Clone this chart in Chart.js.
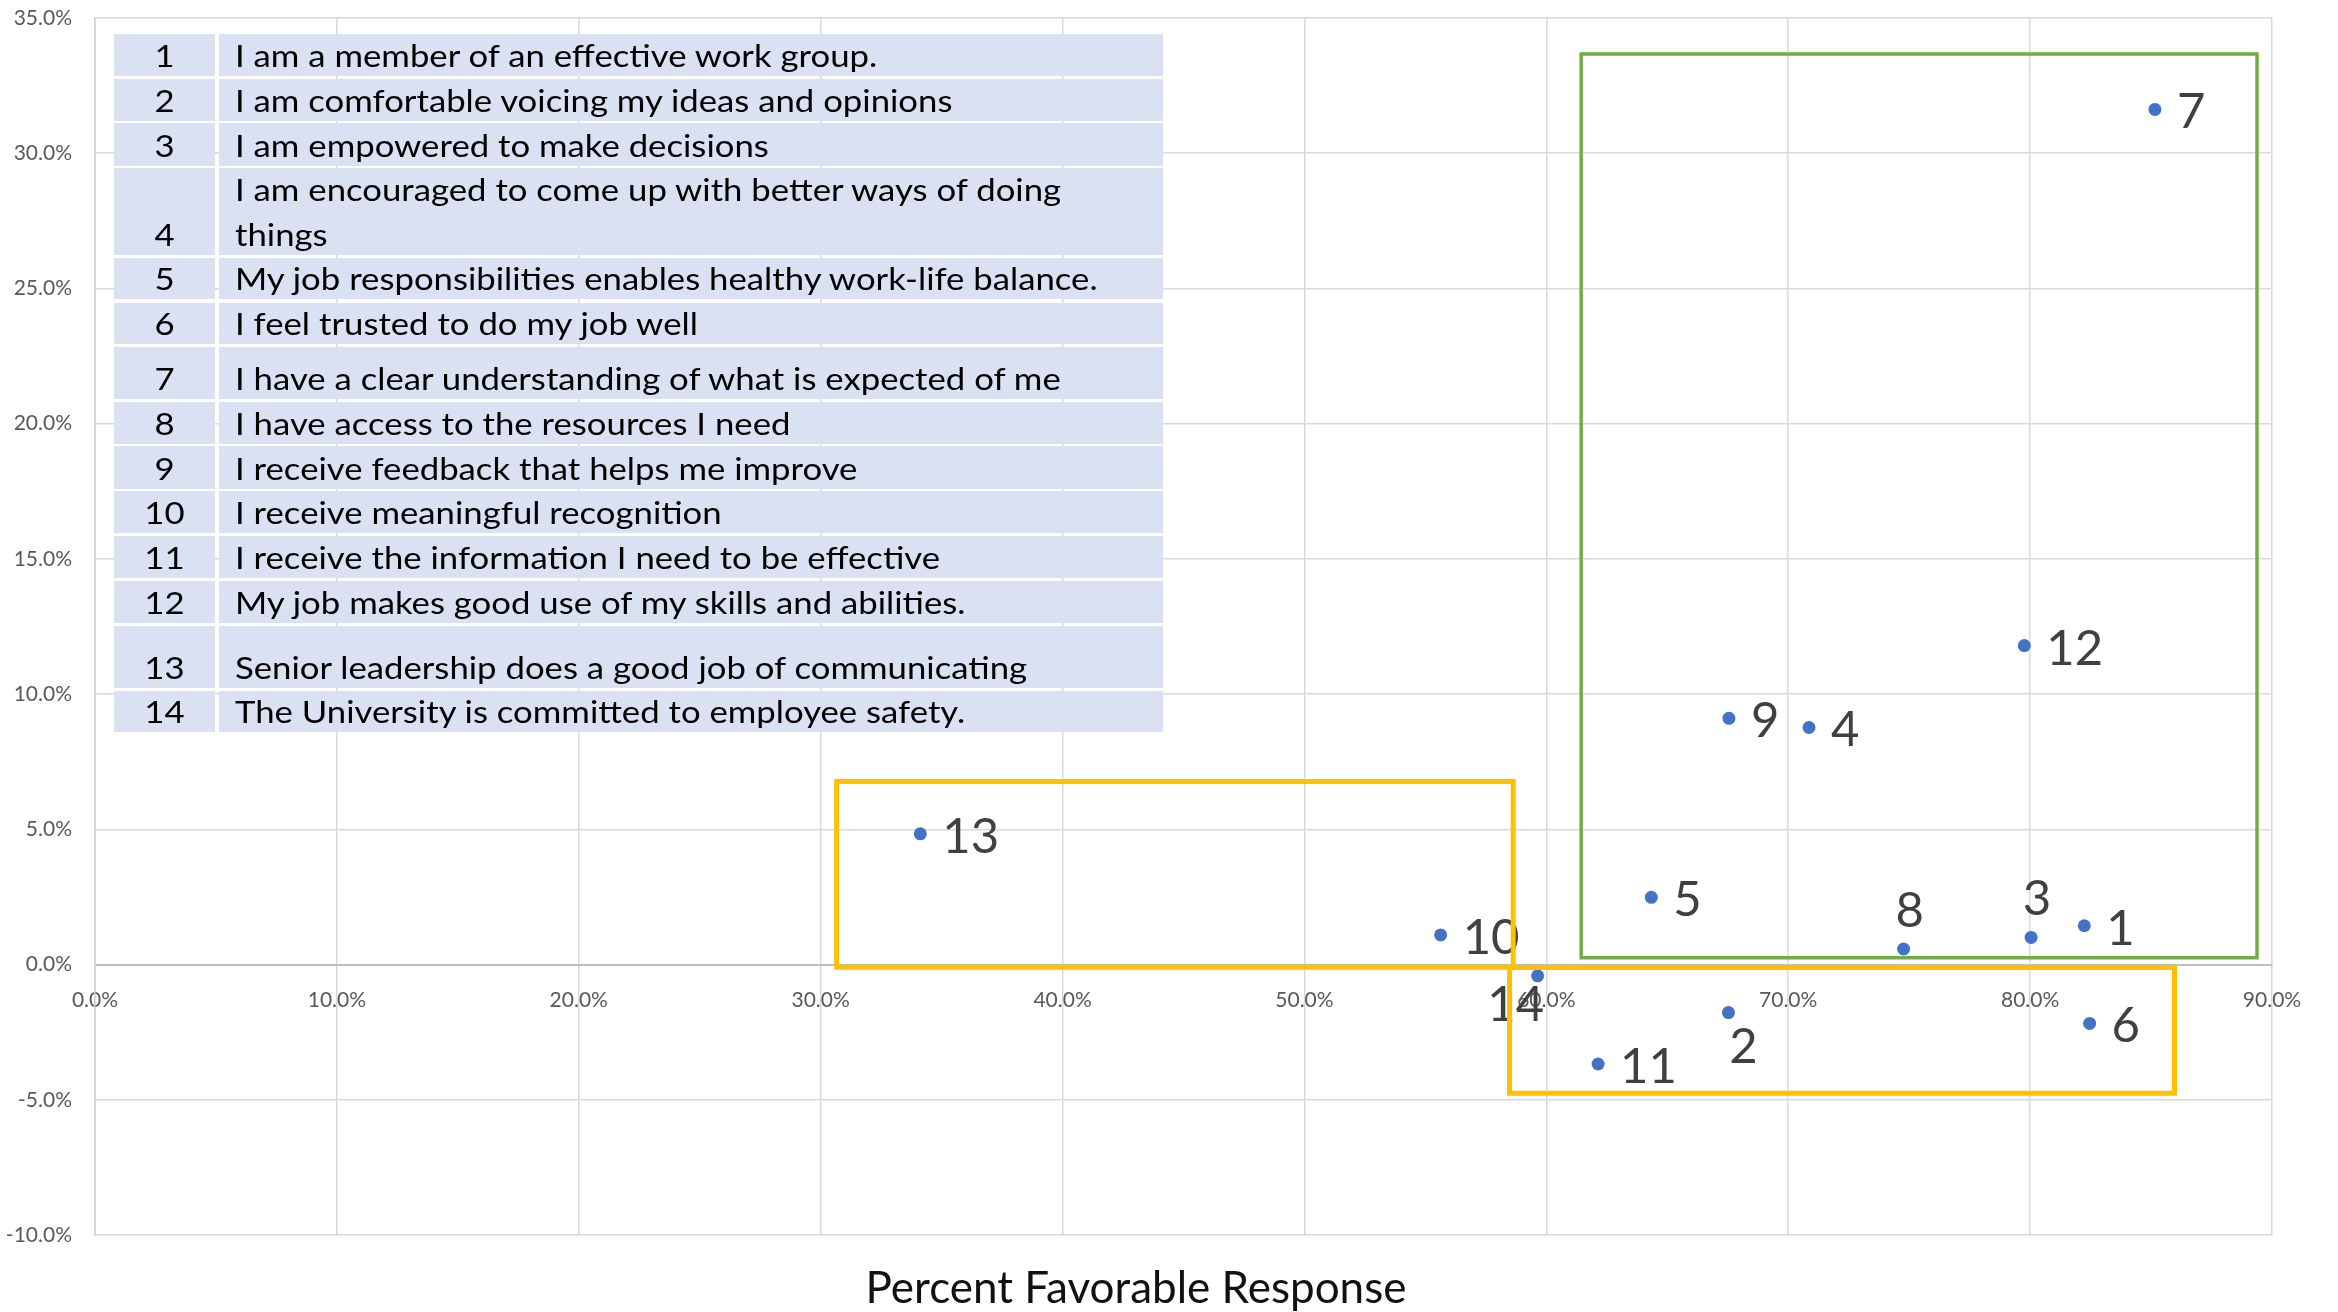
<!DOCTYPE html>
<html><head><meta charset="utf-8">
<script src="https://cdn.jsdelivr.net/npm/chart.js@4"></script>
<style>
html,body{margin:0;padding:0;background:#fff;}
#wrap{position:relative;width:2338px;height:1312px;overflow:hidden;font-family:Lato,'Open Sans',sans-serif;}
#c{position:absolute;left:0;top:0;}
#tbl{position:absolute;left:0;top:0;width:2338px;height:1312px;pointer-events:none;}
.cell{position:absolute;background:#D9E1F2;}
.txt{position:absolute;font-size:31px;line-height:31px;white-space:nowrap;color:#000;transform:scaleX(1.12);transform-origin:0 0;}
.num{text-align:center;transform-origin:50% 0;}
.wrapTxt{white-space:normal;line-height:45px;}
</style></head><body>
<div id="wrap"><canvas id="c" width="2338" height="1312"></canvas><div id="tbl"></div></div>
<script>
// ---------- data ----------
const questionNumbers = ['1','2','3','4','5','6','7','8','9','10','11','12','13','14'];
const questionTexts = [
  'I am a member of an effective work group.',
  'I am comfortable voicing my ideas and opinions',
  'I am empowered to make decisions',
  'I am encouraged to come up with better ways of doing things',
  'My job responsibilities enables healthy work-life balance.',
  'I feel trusted to do my job well',
  'I have a clear understanding of what is expected of me',
  'I have access to the resources I need',
  'I receive feedback that helps me improve',
  'I receive meaningful recognition',
  'I receive the information I need to be effective',
  'My job makes good use of my skills and abilities.',
  'Senior leadership does a good job of communicating',
  'The University is committed to employee safety.'
];
// Percent favorable response (x) and change (y), in percent
const percentFavorable = [82.24, 67.53, 80.04, 70.86, 64.34, 82.46, 85.16, 74.77, 67.55, 55.63, 62.14, 79.76, 34.12, 59.64];
const changeValues     = [1.44, -1.77, 1.01, 8.77, 2.49, -2.17, 31.62, 0.58, 9.11, 1.10, -3.67, 11.80, 4.84, -0.41];
const xTicks = [0,10,20,30,40,50,60,70,80,90];
const yTicks = [-10,-5,0,5,10,15,20,25,30,35];
const xAxisTitle = 'Percent Favorable Response';
// highlight boxes: [xMin, xMax, yMin, yMax]
const greenBox   = [61.44, 89.38, 0.26, 33.67];
const yellowBoxA = [30.66, 58.63, -0.09, 6.77];
const yellowBoxB = [58.48, 85.97, -4.75, -0.10];

// ---------- styling / layout ----------
const labelPlacement = ['right','below','above','right','right','right','right','above','right','right','right','right','right','belowLeft'];
const placementStyle = {
  right:{dx:22, dy:19, align:'left'},
  above:{dx:6, dy:-22, align:'center'},
  below:{dx:15, dy:50, align:'center'},
  belowLeft:{dx:-22, dy:45, align:'center'}
};
const rowTops    = [34, 78.7, 123.3, 168.3, 257.7, 302.7, 347.3, 401.7, 446.3, 491.3, 536, 580.7, 625.7, 690.7];
const rowHeights = [42, 42, 42.4, 86.7, 41.3, 41.6, 51.7, 42, 42.4, 42, 41.7, 42, 62, 41.6];

// ---------- table (HTML overlay) ----------
const tbl = document.getElementById('tbl');
questionNumbers.forEach((n, i) => {
  const top = rowTops[i], h = rowHeights[i], bottom = top + h;
  const c1 = document.createElement('div'); c1.className = 'cell';
  c1.style.cssText = `left:114px;top:${top}px;width:100.5px;height:${h}px;`;
  const c2 = document.createElement('div'); c2.className = 'cell';
  c2.style.cssText = `left:218.5px;top:${top}px;width:944px;height:${h}px;`;
  tbl.appendChild(c1); tbl.appendChild(c2);
  const baseline = bottom - 8.5;
  const nd = document.createElement('div'); nd.className = 'txt num';
  nd.style.cssText += `left:114px;width:101px;top:${baseline - 27.5}px;`;
  nd.textContent = n; tbl.appendChild(nd);
  const td = document.createElement('div'); td.className = 'txt';
  if (h > 80) {
    td.className = 'txt wrapTxt';
    td.style.cssText += `left:235px;width:780px;top:${baseline - 45 - 34.5}px;`;
  } else {
    td.style.cssText += `left:235px;top:${baseline - 27.5}px;`;
  }
  td.textContent = questionTexts[i]; tbl.appendChild(td);
});

// ---------- chart ----------
function boxPath(b){ return [{x:b[0],y:b[3]},{x:b[1],y:b[3]},{x:b[1],y:b[2]},{x:b[0],y:b[2]},{x:b[0],y:b[3]}]; }

const labelPlugin = {
  id: 'pointLabels',
  afterDatasetDraw(chart, args) {
    if (args.index !== 0) return;
    const ctx = chart.ctx;
    ctx.save();
    ctx.font = '49px Lato, "Open Sans", sans-serif';
    ctx.fillStyle = '#404040';
    ctx.textBaseline = 'alphabetic';
    args.meta.data.forEach((el, i) => {
      const st = placementStyle[labelPlacement[i]];
      ctx.textAlign = st.align;
      ctx.fillText(questionNumbers[i], el.x + st.dx, el.y + st.dy);
    });
    ctx.restore();
  }
};

const boxStyle = (color, w) => ({type:'scatter', showLine:true, borderColor:color, borderWidth:w, pointRadius:0, pointHoverRadius:0, fill:false, tension:0, borderJoinStyle:'miter', borderCapStyle:'square', order:1});

const tickFont = {family:'Lato, "Open Sans", sans-serif', size:21};
new Chart(document.getElementById('c'), {
  type: 'scatter',
  data: {
    datasets: [
      {label:'Questions', data: percentFavorable.map((x,i)=>({x, y: changeValues[i]})), pointRadius:6.5, pointHoverRadius:6.5, pointBackgroundColor:'#4472C4', pointBorderWidth:0, order:2},
      Object.assign({label:'green', data: boxPath(greenBox)}, boxStyle('#70AD47', 3.5)),
      Object.assign({label:'yellowA', data: boxPath(yellowBoxA)}, boxStyle('#FFC000', 5)),
      Object.assign({label:'yellowB', data: boxPath(yellowBoxB)}, boxStyle('#FFC000', 5))
    ]
  },
  options: {
    responsive:false, animation:false, devicePixelRatio:1,
    layout:{autoPadding:false, padding:{left:0, right:66, top:18, bottom:0}},
    plugins:{
      legend:{display:false}, tooltip:{enabled:false},
      title:{display:true, text:xAxisTitle, position:'bottom', color:'#111',
             font:{family:'Lato, "Open Sans", sans-serif', size:44, weight:'normal'}, padding:{top:27,bottom:-3}}
    },
    scales:{
      x:{type:'linear', min:0, max:90, position:{y:0},
         afterBuildTicks: s => { s.ticks = xTicks.map(v=>({value:v})); },
         ticks:{padding:23, color:'#595959', font:tickFont, callback:v=>v.toFixed(1)+'%', maxRotation:0},
         grid:{color:'#d9d9d9', lineWidth:1.5, drawTicks:false},
         border:{color:'#bfbfbf', width:2}},
      y:{type:'linear', min:-10, max:35,
         afterBuildTicks: s => { s.ticks = yTicks.map(v=>({value:v})); },
         afterFit: s => { s.width = 95; s.paddingTop = 0; s.paddingBottom = 0; },
         ticks:{padding:23, color:'#595959', font:tickFont, callback:v=>v.toFixed(1)+'%'},
         grid:{color:'#d9d9d9', lineWidth:1.5, drawTicks:false},
         border:{color:'#d0d0d0', width:1.5}}
    }
  },
  plugins:[labelPlugin]
});
</script>
</body></html>
